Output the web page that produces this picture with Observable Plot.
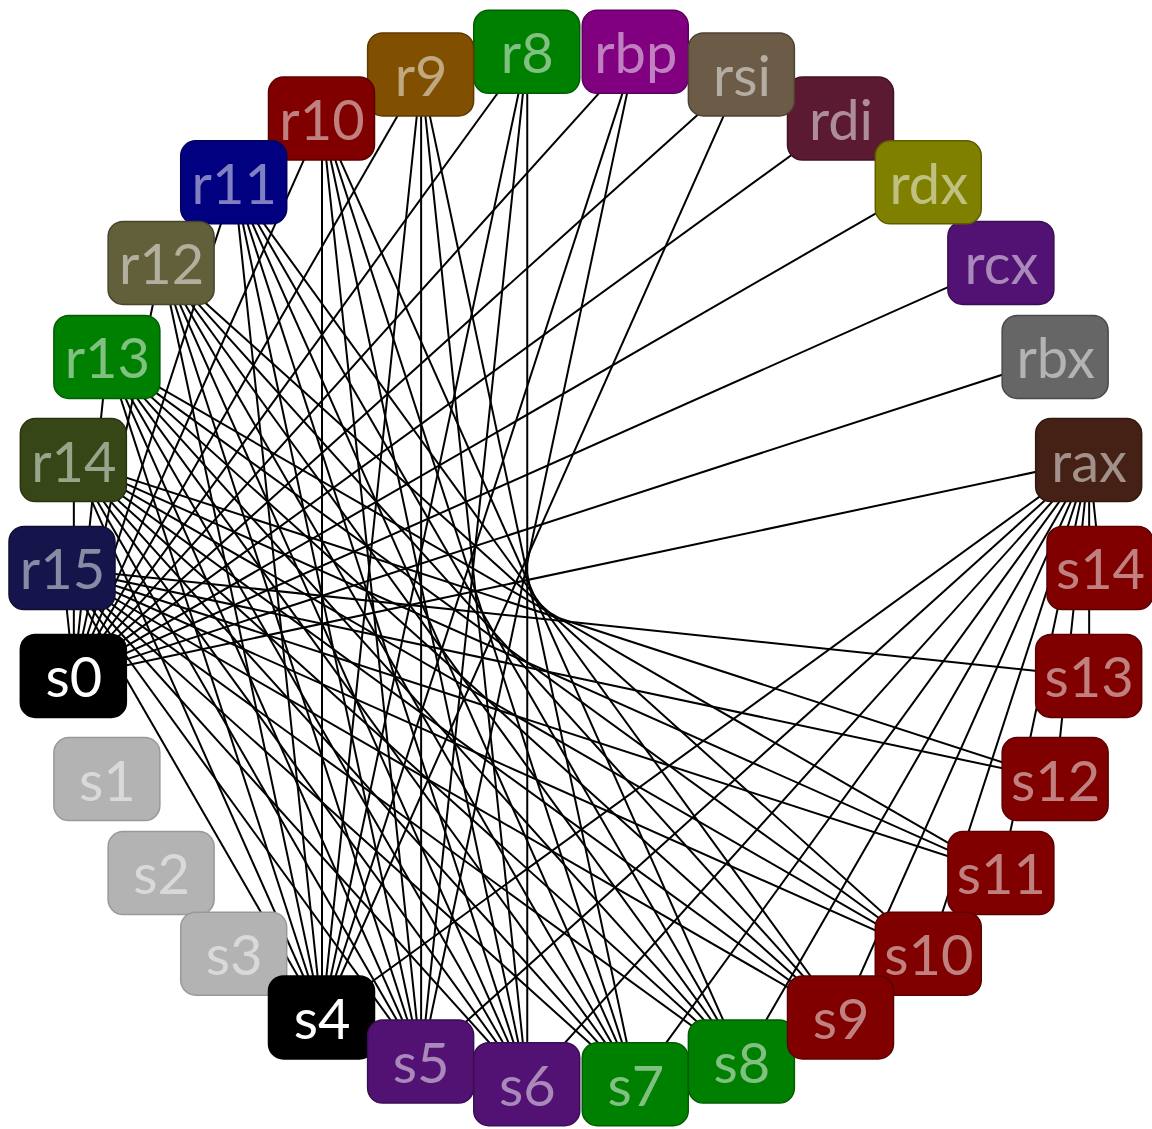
<!DOCTYPE html>
<html>
<head>
<meta charset="utf-8">
<script src="https://cdn.jsdelivr.net/npm/d3@7"></script>
<script src="https://cdn.jsdelivr.net/npm/@observablehq/plot@0.6"></script>
<style>
  html, body { margin: 0; padding: 0; background: #ffffff; }
  #chart svg { display: block; }
</style>
</head>
<body>
<div id="chart"></div>
<script>
// Nodes, clockwise around the circle starting just right of the top
const nodeNames = ["rbp","rsi","rdi","rdx","rcx","rbx","rax",
  "s14","s13","s12","s11","s10","s9","s8","s7","s6","s5","s4","s3","s2","s1","s0",
  "r15","r14","r13","r12","r11","r10","r9","r8"];

// Fill colour of every node (same order as nodeNames)
const nodeColors = ["#800080","#6b5b47","#5b1a32","#808000","#521273","#666666","#452015",
  "#800000","#800000","#800000","#800000","#800000","#800000","#008000","#008000","#521273","#521273","#000000","#b3b3b3","#b3b3b3","#b3b3b3","#000000",
  "#15154b","#374616","#008000","#625f3b","#000080","#800000","#805000","#008000"];

// Edges: register -> slot
const edgeSource = [
  "rax","rbx","rcx","rdx","rdi","rsi","rbp","r8","r9","r10","r11","r12","r13","r14","r15",
  "rsi",
  "rbp","rbp",
  "r8","r8","r8",
  "r9","r9","r9","r9",
  "r10","r10","r10","r10","r10",
  "r11","r11","r11","r11","r11","r11",
  "r12","r12","r12","r12","r12","r12","r12",
  "r13","r13","r13","r13","r13","r13","r13","r13",
  "r14","r14","r14","r14","r14","r14","r14","r14","r14",
  "r15","r15","r15","r15","r15","r15","r15","r15","r15","r15",
  "rax","rax","rax","rax","rax","rax","rax","rax","rax","rax","rax"];
const edgeTarget = [
  "s0","s0","s0","s0","s0","s0","s0","s0","s0","s0","s0","s0","s0","s0","s0",
  "s4",
  "s4","s5",
  "s4","s5","s6",
  "s4","s5","s6","s7",
  "s4","s5","s6","s7","s8",
  "s4","s5","s6","s7","s8","s9",
  "s4","s5","s6","s7","s8","s9","s10",
  "s4","s5","s6","s7","s8","s9","s10","s11",
  "s4","s5","s6","s7","s8","s9","s10","s11","s12",
  "s4","s5","s6","s7","s8","s9","s10","s11","s12","s13",
  "s4","s5","s6","s7","s8","s9","s10","s11","s12","s13","s14"];

// Drawing order of boxes (later = on top)
const drawOrder = ["rax","rbx","rcx","rbp","rdi","rsi","rdx","r8","r9","r10","r11","r12","r13","r14","r15",
  "s0","s1","s2","s3","s4","s5","s6","s7","s8","s14","s13","s12","s11","s10","s9"];

// ---- layout -------------------------------------------------------------
const W = 1152, H = 1129, CX = 581, CY = 568, R = 519;
const BOX_W = 106, BOX_H = 83;
const step = 360 / nodeNames.length;

const nodes = nodeNames.map((name, i) => {
  const a = (step / 2 + step * i) * Math.PI / 180;
  const fill = nodeColors[i];
  const dark = d3.hsl(fill).l < 0.05;
  return {
    name,
    x: Math.sin(a),
    y: Math.cos(a),
    fill,
    textColor: dark ? "#ffffff" : d3.interpolateRgb(fill, "#ffffff")(0.5),
    border: fill === "#b3b3b3" ? "#999999" : d3.color(fill).darker(0.9).formatHex()
  };
});
const byName = new Map(nodes.map(d => [d.name, d]));
const links = edgeSource.map((s, i) => ({s: byName.get(s), t: byName.get(edgeTarget[i])}));
const drawn = drawOrder.map(n => byName.get(n));

const hw = BOX_W / 2 / R, hh = BOX_H / 2 / R;

const chart = Plot.plot({
  width: W,
  height: H,
  margin: 0,
  x: {domain: [-CX / R, (W - CX) / R], axis: null},
  y: {domain: [-(H - CY) / R, CY / R], axis: null},
  color: {type: "identity"},
  style: {background: "#ffffff"},
  marks: [
    Plot.link(links, {
      x1: d => d.s.x, y1: d => d.s.y, x2: d => d.t.x, y2: d => d.t.y,
      stroke: "#000000", strokeWidth: 2
    }),
    Plot.rect(drawn, {
      x1: d => d.x - hw, x2: d => d.x + hw,
      y1: d => d.y - hh, y2: d => d.y + hh,
      fill: d => d.fill, stroke: d => d.border, strokeWidth: 1.5, rx: 15
    }),
    Plot.text(drawn, {
      x: "x", y: "y", text: "name",
      fill: d => d.textColor,
      fontSize: 56, fontFamily: "Lato", dy: 3
    })
  ]
});
document.getElementById("chart").appendChild(chart);
</script>
</body>
</html>
